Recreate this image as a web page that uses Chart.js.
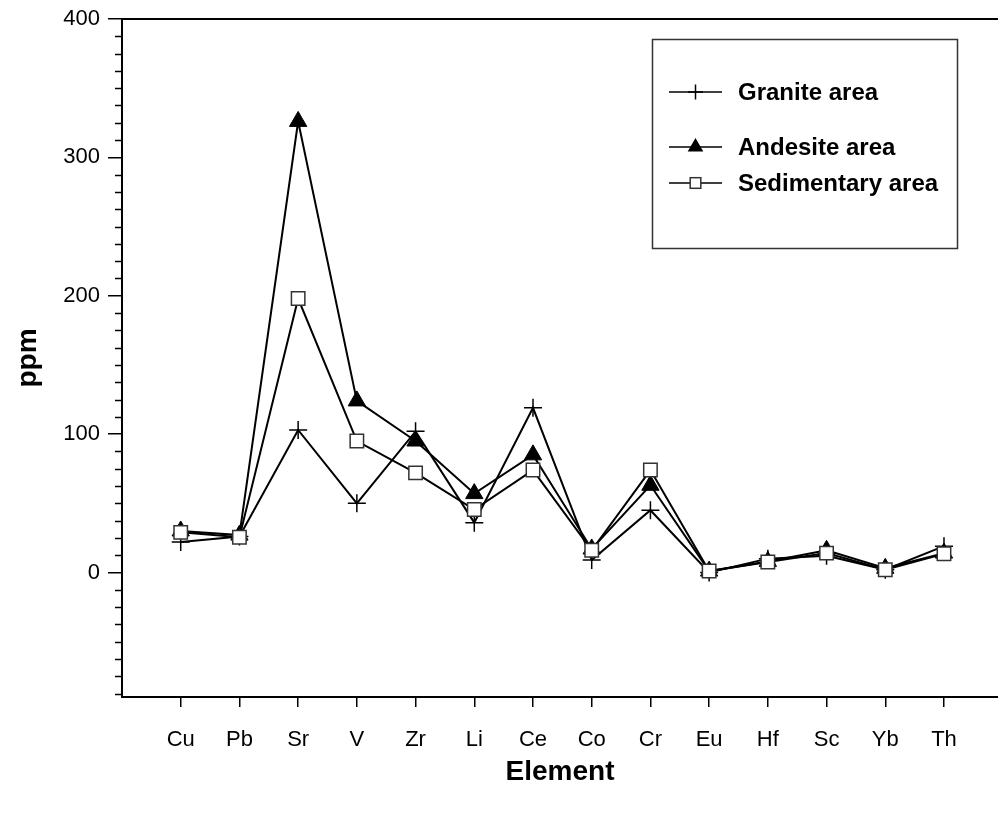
<!DOCTYPE html>
<html>
<head>
<meta charset="utf-8">
<script src="https://cdn.jsdelivr.net/npm/chart.js@4.4.0/dist/chart.umd.min.js"></script>
<style>
  html, body { margin: 0; padding: 0; background: #ffffff; overflow: hidden; }
  #wrap { width: 998px; height: 813px; }
</style>
</head>
<body>
<div id="wrap"><canvas id="c" width="998" height="813"></canvas></div>
<script>
// Trace element concentrations (ppm) by source-rock area
const categories = ['Cu', 'Pb', 'Sr', 'V', 'Zr', 'Li', 'Ce', 'Co', 'Cr', 'Eu', 'Hf', 'Sc', 'Yb', 'Th'];
const graniteArea = [22, 26, 103, 50, 102, 36, 119, 9, 45, 0, 10, 12, 2, 19];
const andesiteArea = [30, 27, 326, 124, 95, 57, 85, 17, 63, 1, 8, 16, 3, 14];
const sedimentaryArea = [29, 25.5, 198, 95, 72, 45.5, 74, 16, 74, 1, 7.5, 14, 2, 13.5];
const yMajorTicks = [0, 100, 200, 300, 400];
const seriesNames = ['Granite area', 'Andesite area', 'Sedimentary area'];

const FONT = "'Liberation Sans', Arial, Helvetica, sans-serif";

function toPoints(values) {
  return values.map((v, i) => ({ x: i, y: v }));
}

// Symbols used in the legend box
function drawSymbol(ctx, style, x, y, r) {
  ctx.save();
  ctx.strokeStyle = '#000';
  if (style === 'cross') {
    ctx.lineWidth = 1.5;
    ctx.beginPath();
    ctx.moveTo(x, y - r); ctx.lineTo(x, y + r);
    ctx.moveTo(x - r, y); ctx.lineTo(x + r, y);
    ctx.stroke();
  } else if (style === 'triangle') {
    ctx.fillStyle = '#000';
    ctx.beginPath();
    ctx.moveTo(x, y - r);
    ctx.lineTo(x + r * Math.sin(2 * Math.PI / 3), y + r / 2);
    ctx.lineTo(x - r * Math.sin(2 * Math.PI / 3), y + r / 2);
    ctx.closePath();
    ctx.fill();
  } else if (style === 'rect') {
    const s = r * Math.SQRT1_2;
    ctx.fillStyle = '#fff';
    ctx.strokeStyle = '#333';
    ctx.lineWidth = 1.5;
    ctx.fillRect(x - s, y - s, 2 * s, 2 * s);
    ctx.strokeRect(x - s, y - s, 2 * s, 2 * s);
  }
  ctx.restore();
}

const framePlugin = {
  id: 'frame',
  afterDraw(chart) {
    const { ctx, chartArea: a, scales } = chart;
    const ys = scales.y;
    ctx.save();
    // top border of the plotting frame
    ctx.strokeStyle = '#000';
    ctx.lineWidth = 2;
    ctx.beginPath();
    ctx.moveTo(a.left, a.top);
    ctx.lineTo(a.right, a.top);
    ctx.stroke();
    // minor ticks on the value axis
    ctx.lineWidth = 1.5;
    ctx.beginPath();
    for (let v = -87.5; v < 400; v += 12.5) {
      if (v % 100 === 0) continue;
      const py = Math.round(ys.getPixelForValue(v)) + 0.5;
      ctx.moveTo(a.left - 7, py);
      ctx.lineTo(a.left, py);
    }
    ctx.stroke();
    ctx.restore();
  }
};

const legendBoxPlugin = {
  id: 'legendBox',
  afterDraw(chart) {
    const { ctx } = chart;
    const box = { x: 652.5, y: 39.5, w: 305, h: 209 };
    const rows = [92, 147, 183];
    const styles = [['cross', 7.5], ['triangle', 9], ['rect', 7.5]];
    ctx.save();
    ctx.strokeStyle = '#333';
    ctx.lineWidth = 1.5;
    ctx.strokeRect(box.x, box.y, box.w, box.h);
    chart.data.datasets.forEach((ds, i) => {
      const y = rows[i];
      ctx.strokeStyle = '#000';
      ctx.lineWidth = 1.5;
      ctx.beginPath();
      ctx.moveTo(669, y);
      ctx.lineTo(722, y);
      ctx.stroke();
      drawSymbol(ctx, styles[i][0], 695.5, y, styles[i][1]);
      ctx.fillStyle = '#000';
      ctx.font = 'bold 24px ' + FONT;
      ctx.textAlign = 'left';
      ctx.textBaseline = 'middle';
      ctx.fillText(ds.label, 738, y + 1);
    });
    ctx.restore();
  }
};

new Chart(document.getElementById('c'), {
  type: 'line',
  data: {
    datasets: [
      {
        label: seriesNames[0],
        data: toPoints(graniteArea),
        borderColor: '#000',
        borderWidth: 2,
        pointStyle: 'cross',
        pointRadius: 9,
        pointBorderWidth: 1.5,
        pointBorderColor: '#000',
        pointBackgroundColor: '#000',
        order: 2
      },
      {
        label: seriesNames[1],
        data: toPoints(andesiteArea),
        borderColor: '#000',
        borderWidth: 2,
        pointStyle: 'triangle',
        pointRadius: 10,
        pointBorderWidth: 1,
        pointBorderColor: '#000',
        pointBackgroundColor: '#000',
        order: 1
      },
      {
        label: seriesNames[2],
        data: toPoints(sedimentaryArea),
        borderColor: '#000',
        borderWidth: 2,
        pointStyle: 'rect',
        pointRadius: 9.5,
        pointBorderWidth: 1.5,
        pointBorderColor: '#333',
        pointBackgroundColor: '#fff',
        order: 0
      }
    ]
  },
  options: {
    responsive: false,
    animation: false,
    devicePixelRatio: 1,
    layout: { autoPadding: false, padding: { top: 19, right: 0, left: 0, bottom: 0 } },
    plugins: {
      legend: { display: false },
      tooltip: { enabled: false }
    },
    elements: { line: { tension: 0 } },
    scales: {
      x: {
        type: 'linear',
        min: -1,
        max: 13.92,
        afterBuildTicks(scale) {
          scale.ticks = categories.map((_, i) => ({ value: i }));
        },
        afterFit(scale) {
          scale.height = 116;
          scale.paddingLeft = 0;
          scale.paddingRight = 0;
        },
        ticks: {
          autoSkip: false,
          maxRotation: 0,
          padding: 20,
          color: '#000',
          font: { family: FONT, size: 22 },
          callback: (v) => categories[v] ?? ''
        },
        grid: {
          drawOnChartArea: false,
          drawTicks: true,
          tickLength: 10,
          color: '#000',
          lineWidth: 1.5
        },
        border: { display: true, color: '#000', width: 2 },
        title: {
          display: true,
          text: 'Element',
          color: '#000',
          font: { family: FONT, size: 28, weight: 'bold' },
          padding: { top: 0, bottom: 24 }
        }
      },
      y: {
        min: -90,
        max: 400,
        afterBuildTicks(scale) {
          scale.ticks = yMajorTicks.map((v) => ({ value: v }));
        },
        afterFit(scale) {
          scale.width = 122;
          scale.paddingTop = 0;
          scale.paddingBottom = 0;
        },
        ticks: {
          padding: 8,
          color: '#000',
          font: { family: FONT, size: 22 },
          callback: (v) => String(v)
        },
        grid: {
          drawOnChartArea: false,
          drawTicks: true,
          tickLength: 14,
          color: '#000',
          lineWidth: 1.5
        },
        border: { display: true, color: '#000', width: 2 },
        title: {
          display: true,
          text: 'ppm',
          color: '#000',
          font: { family: FONT, size: 28, weight: 'bold' },
          padding: { top: 11, bottom: 0 }
        }
      }
    }
  },
  plugins: [framePlugin, legendBoxPlugin]
});
</script>
</body>
</html>
